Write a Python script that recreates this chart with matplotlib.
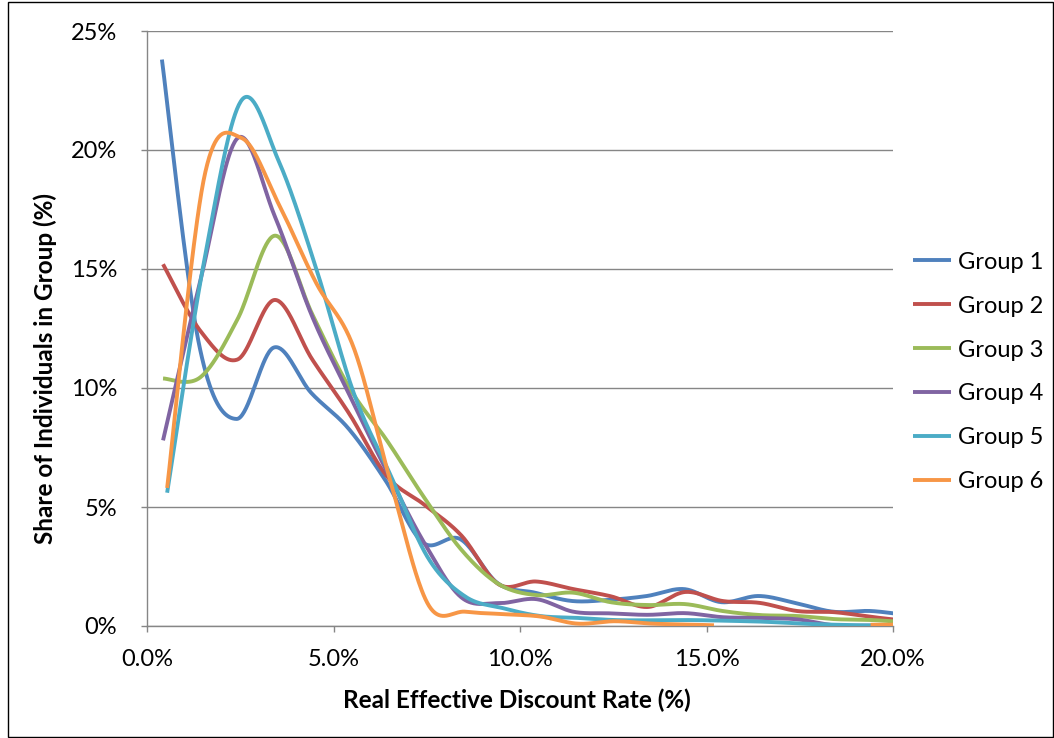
import numpy as np
import matplotlib
matplotlib.use("Agg")
import matplotlib.pyplot as plt
from matplotlib.patches import Rectangle

# Real effective discount rate (%) at which each group's share is reported
rate_g1 = [0.40, 1.40, 2.40, 3.40, 4.40, 5.40, 6.40, 7.40, 8.40, 9.40, 10.40,
           11.40, 12.40, 13.40, 14.40, 15.40, 16.40, 17.40, 18.40, 19.40, 20.40]
rate_g2to4 = [0.43, 1.43, 2.43, 3.43, 4.43, 5.43, 6.43, 7.43, 8.43, 9.43, 10.43,
              11.43, 12.43, 13.43, 14.43, 15.43, 16.43, 17.43, 18.43, 19.43, 20.43]
rate_g5 = [0.54, 1.54, 2.54, 3.54, 4.54, 5.54, 6.54, 7.54, 8.54, 9.54, 10.54,
           11.54, 12.54, 13.54, 14.54, 15.54, 16.54, 17.54, 18.54, 19.54, 20.54]
rate_g6 = [0.54, 1.54, 2.54, 3.54, 4.54, 5.54, 6.54, 7.54, 8.54, 9.54, 10.54,
           11.54, 12.54, 13.54, 14.54, 15.20, np.nan, 19.40, 20.40]

# Share of individuals in each group (%)
share_g1 = [23.8, 11.8, 8.7, 11.7, 9.8, 8.3, 6.1, 3.5, 3.65, 1.8, 1.4,
            1.05, 1.1, 1.26, 1.55, 1.0, 1.26, 0.96, 0.6, 0.63, 0.45]
share_g2 = [15.2, 12.4, 11.2, 13.7, 11.2, 8.9, 6.3, 5.1, 3.8, 1.75, 1.87,
            1.55, 1.25, 0.8, 1.43, 1.05, 0.97, 0.63, 0.58, 0.38, 0.2]
share_g3 = [10.4, 10.45, 12.9, 16.4, 13.1, 10.0, 7.8, 5.4, 3.2, 1.76, 1.3,
            1.4, 1.0, 0.88, 0.92, 0.63, 0.46, 0.42, 0.29, 0.25, 0.15]
share_g4 = [7.8, 14.5, 20.5, 17.2, 13.0, 9.7, 6.5, 3.5, 1.2, 0.96, 1.13,
            0.6, 0.53, 0.47, 0.54, 0.37, 0.34, 0.28, 0.03, 0.02, 0.0]
share_g5 = [5.6, 15.4, 22.1, 19.5, 15.0, 9.8, 6.3, 2.85, 1.23, 0.75, 0.42,
            0.34, 0.25, 0.24, 0.25, 0.22, 0.18, 0.1, 0.05, 0.02, 0.0]
share_g6 = [5.8, 18.9, 20.5, 17.7, 14.4, 11.7, 6.0, 0.9, 0.6, 0.5, 0.4,
            0.1, 0.2, 0.1, 0.06, 0.03, np.nan, 0.05, 0.06]

group_names = ["Group 1", "Group 2", "Group 3", "Group 4", "Group 5", "Group 6"]
group_colors = ["#4F81BD", "#C0504D", "#9BBB59", "#8064A2", "#4BACC6", "#F79646"]

x_ticks = [0, 5, 10, 15, 20]
x_tick_labels = ["0.0%", "5.0%", "10.0%", "15.0%", "20.0%"]
y_ticks = [0, 5, 10, 15, 20, 25]
y_tick_labels = ["0%", "5%", "10%", "15%", "20%", "25%"]

series = [
    (rate_g1, share_g1),
    (rate_g2to4, share_g2),
    (rate_g2to4, share_g3),
    (rate_g2to4, share_g4),
    (rate_g5, share_g5),
    (rate_g6, share_g6),
]


def smooth_curve(xs, ys, samples=40):
    """Smoothed line through the points (cubic Bezier, Catmull-Rom style
    control points); NaN entries split the line into separate pieces."""
    xs = np.asarray(xs, float)
    ys = np.asarray(ys, float)
    out_x, out_y = [], []
    valid = ~(np.isnan(xs) | np.isnan(ys))
    idx = np.where(valid)[0]
    pieces = np.split(idx, np.where(np.diff(idx) != 1)[0] + 1)
    t = np.linspace(0, 1, samples)[:, None]
    for piece in pieces:
        pts = np.column_stack([xs[piece], ys[piece]])
        n = len(pts)
        if n == 1:
            out_x += [pts[0, 0], np.nan]
            out_y += [pts[0, 1], np.nan]
            continue
        for i in range(n - 1):
            p0 = pts[i - 1] if i > 0 else pts[i]
            p1 = pts[i]
            p2 = pts[i + 1]
            p3 = pts[i + 2] if i + 2 < n else pts[i + 1]
            b1 = p1 + (p2 - p0) / 6.0
            b2 = p2 - (p3 - p1) / 6.0
            seg = ((1 - t) ** 3) * p1 + 3 * ((1 - t) ** 2) * t * b1 \
                + 3 * (1 - t) * (t ** 2) * b2 + (t ** 3) * p2
            out_x += list(seg[:, 0])
            out_y += list(seg[:, 1])
        out_x.append(np.nan)
        out_y.append(np.nan)
    return np.array(out_x), np.array(out_y)


plt.rcParams["font.family"] = ["Lato", "DejaVu Sans"]

W, H = 1054, 738
fig = plt.figure(figsize=(W / 100, H / 100), dpi=100)
fig.patch.set_facecolor("white")
ax = fig.add_axes([147 / W, 1 - 626 / H, 746 / W, 595 / H])

grid_color = "#868686"

for (xs, ys), name, color in zip(series, group_names, group_colors):
    sx, sy = smooth_curve(xs, ys)
    ax.plot(sx, sy, color=color, lw=2.8, label=name,
            solid_capstyle="butt", solid_joinstyle="round", zorder=3)

ax.set_xlim(0, 20)
ax.set_ylim(0, 25)
ax.set_xticks(x_ticks)
ax.set_xticklabels(x_tick_labels)
ax.set_yticks(y_ticks)
ax.set_yticklabels(y_tick_labels)

ax.yaxis.grid(True, color=grid_color, lw=1.0, zorder=0)
ax.set_axisbelow(True)
for side in ("top", "right"):
    ax.spines[side].set_visible(False)
for side in ("left", "bottom"):
    ax.spines[side].set_color(grid_color)
    ax.spines[side].set_linewidth(1.0)

ax.tick_params(axis="both", direction="out", length=4.5, width=1.0,
               color=grid_color, labelsize=17, labelcolor="black")
ax.tick_params(axis="y", pad=17)
ax.tick_params(axis="x", pad=12)

fig.text(517 / W, 1 - 700 / H, "Real Effective Discount Rate (%)",
         ha="center", va="center", fontsize=17.5, fontweight="bold")
fig.text(45 / W, 1 - 369 / H, "Share of Individuals in Group (%)",
         ha="center", va="center", rotation=90, fontsize=17.5,
         fontweight="bold")

ax.legend(loc="center left", bbox_to_anchor=(913 / W, 1 - 372 / H),
          bbox_transform=fig.transFigure, frameon=False, fontsize=17,
          handlelength=1.6, handletextpad=0.3, labelspacing=0.97,
          borderpad=0, borderaxespad=0)

fig.patches.append(Rectangle((8 / W, 1 / H), (1053 - 8) / W, (736 - 1) / H,
                             transform=fig.transFigure, fill=False,
                             ec="black", lw=1.0))

fig.savefig("out.png", dpi=100, facecolor="white")
